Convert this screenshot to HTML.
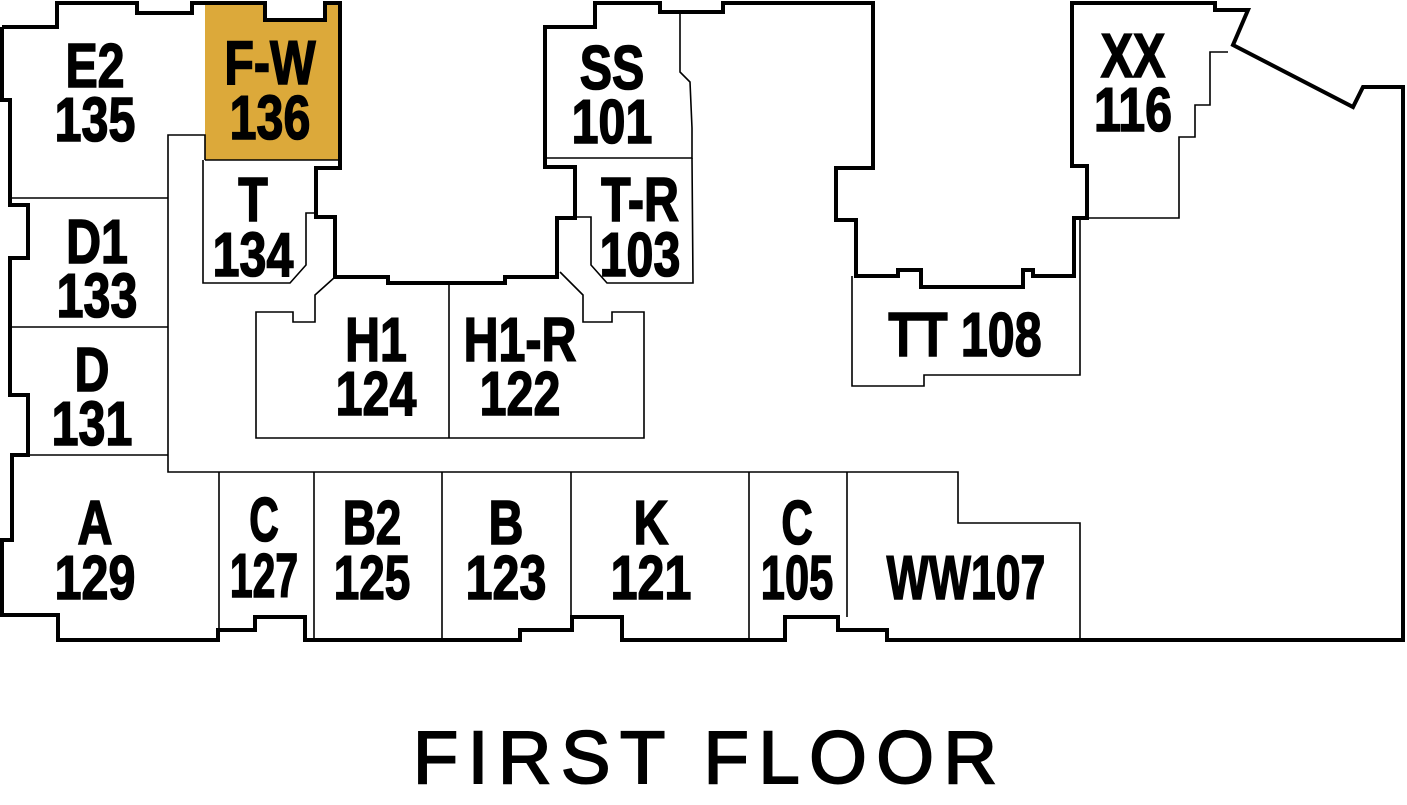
<!DOCTYPE html>
<html><head><meta charset="utf-8"><style>
html,body{margin:0;padding:0;background:#fff;}
svg{display:block;}
.l text{font-family:"Liberation Sans",sans-serif;font-weight:bold;font-size:62px;text-anchor:middle;fill:#000;stroke:#000;stroke-width:1.6px;}
</style></head><body>
<svg width="1407" height="805" viewBox="0 0 1407 805" xmlns="http://www.w3.org/2000/svg">
<polygon points="205,4 265,4 265,20 325,20 325,4 340,4 340,160 205,160" fill="#dca93a"/>
<g fill="none" stroke="#000" stroke-width="1.6">
<polyline points="205,160 205,135 168,135 168,472 958,472 958,523 1080,523 1080,640"/>
<line x1="12" y1="198" x2="168" y2="198"/>
<line x1="12" y1="327" x2="168" y2="327"/>
<line x1="12" y1="455" x2="168" y2="455"/>
<line x1="219" y1="472" x2="219" y2="630"/>
<line x1="314" y1="472" x2="314" y2="638"/>
<line x1="442" y1="472" x2="442" y2="640"/>
<line x1="571" y1="472" x2="571" y2="630"/>
<line x1="749" y1="472" x2="749" y2="640"/>
<line x1="847" y1="472" x2="847" y2="617"/>
<polyline points="205,160 340,160"/>
<polyline points="203,160 203,283 290,283 306,265 306,213 316,213"/>
<polyline points="680,12 680,72 690,82 692,128 692,158 545,158"/>
<polyline points="692,158 693,283 607,283 591,265 591,217 577,217"/>
<polyline points="335,277 315,295 315,322 293,322 293,312 256,312 256,438 644,438 644,312 612,312 612,322 583,322 583,295 560,272"/>
<line x1="449" y1="285" x2="449" y2="438"/>
<polyline points="852,276 852,386 924,386 924,375 1080,375 1080,220"/>
<polyline points="1228,52 1210,52 1210,105 1195,105 1195,137 1179,137 1179,218 1086,218"/>
</g>
<polyline fill="none" stroke="#000" stroke-width="4" stroke-linejoin="miter" points="
2,27 57,27 57,3 137,3 137,13 192,13 192,3 265,3 265,20 325,20 325,3 340,3 340,168 316,168 316,217 335,217 335,277 388,277 388,283 505,283 505,277 557,277 557,218 575,218 575,167 545,167 545,27 595,27 595,3 660,3 660,12 723,12 723,3 873,3 873,168 836,168 836,220 856,220 856,276 898,276 898,270 921,270 921,287 1023,287 1023,270 1033,270 1033,276 1074,276 1074,218 1087,218 1087,166 1072,166 1072,3 1215,3 1215,10 1248,10 1233,45 1353,107 1363,87 1403,87 1403,640 887,640 887,630 838,630 838,617 785,617 785,640 622,640 622,617 572,617 572,630 520,630 520,640 305,640 305,617 255,617 255,630 218,630 218,640 58,640 58,615 2,615 2,540 12,540 12,455 28,455 28,395 10,395 10,258 28,258 28,205 10,205 10,100 2,100 2,27"/>
<g class="l">
<g transform="translate(95,0) scale(0.78,1)"><text x="0" y="87">E2</text><text x="0" y="141">135</text></g>
<g transform="translate(270,0) scale(0.78,1)"><text x="0" y="84">F-W</text><text x="0" y="139">136</text></g>
<g transform="translate(253,0) scale(0.78,1)"><text x="0" y="221">T</text><text x="0" y="276">134</text></g>
<g transform="translate(97,0) scale(0.78,1)"><text x="0" y="263">D1</text><text x="0" y="317">133</text></g>
<g transform="translate(92,0) scale(0.78,1)"><text x="0" y="391">D</text><text x="0" y="445">131</text></g>
<g transform="translate(612,0) scale(0.78,1)"><text x="0" y="89">SS</text><text x="0" y="143">101</text></g>
<g transform="translate(640,0) scale(0.78,1)"><text x="0" y="221">T-R</text><text x="0" y="276">103</text></g>
<g transform="translate(1133,0) scale(0.78,1)"><text x="0" y="77">XX</text><text x="0" y="131">116</text></g>
<g transform="translate(376,0) scale(0.78,1)"><text x="0" y="361">H1</text><text x="0" y="415">124</text></g>
<g transform="translate(520,0) scale(0.78,1)"><text x="0" y="361">H1-R</text><text x="0" y="415">122</text></g>
<g transform="translate(965,0) scale(0.78,1)"><text x="0" y="356">TT 108</text></g>
<g transform="translate(95,0) scale(0.78,1)"><text x="0" y="544">A</text><text x="0" y="599">129</text></g>
<g transform="translate(264,0) scale(0.66,1)"><text x="0" y="541">C</text><text x="0" y="597">127</text></g>
<g transform="translate(372,0) scale(0.74,1)"><text x="0" y="544">B2</text><text x="0" y="599">125</text></g>
<g transform="translate(506,0) scale(0.78,1)"><text x="0" y="544">B</text><text x="0" y="599">123</text></g>
<g transform="translate(651,0) scale(0.78,1)"><text x="0" y="544">K</text><text x="0" y="599">121</text></g>
<g transform="translate(797,0) scale(0.7,1)"><text x="0" y="544">C</text><text x="0" y="599">105</text></g>
<g transform="translate(966,0) scale(0.72,1)"><text x="0" y="599">WW107</text></g>
</g>
<text x="413" y="783" textLength="584" lengthAdjust="spacing" font-family="Liberation Sans, sans-serif" font-size="74" font-weight="normal" stroke="#000" stroke-width="2" fill="#000">FIRST FLOOR</text>
</svg>
</body></html>
